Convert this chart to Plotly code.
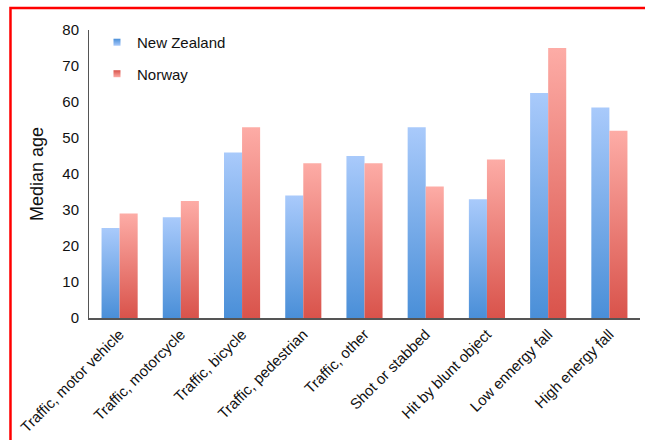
import plotly.graph_objects as go

# Median age by injury mechanism
categories = [
    "Traffic, motor vehicle",
    "Traffic, motorcycle",
    "Traffic, bicycle",
    "Traffic, pedestrian",
    "Traffic, other",
    "Shot or stabbed",
    "Hit by blunt object",
    "Low ennergy fall",
    "High energy fall",
]
new_zealand = [25, 28, 46, 34, 45, 53, 33, 62.5, 58.5]
norway = [29, 32.5, 53, 43, 43, 36.5, 44, 75, 52]
y_ticks = [0, 10, 20, 30, 40, 50, 60, 70, 80]

FONT = "Liberation Sans, Arial, Helvetica, sans-serif"
BAR_W = 0.295  # width of one bar in category units

series = [
    # name, values, bottom colour, top colour, offset side
    ("New Zealand", new_zealand, "#4a8fd8", "#a9cafb", -1),
    ("Norway", norway, "#d9534b", "#fdaca6", 0),
]

fig = go.Figure()

for gi, (name, values, c_bot, c_top, side) in enumerate(series):
    for i, v in enumerate(values):
        x0 = i + side * BAR_W
        x1 = x0 + BAR_W
        fig.add_trace(go.Scatter(
            x=[x0, x1, x1, x0, x0],
            y=[0, 0, v, v, 0],
            mode="none",
            fill="toself",
            fillgradient=dict(
                type="vertical",
                colorscale=[[0, c_bot], [1, c_top]],
                start=0,
                stop=v,
            ),
            showlegend=False,
            hoverinfo="skip",
        ))
    # legend entry for the series
    fig.add_trace(go.Scatter(
        x=[None], y=[None],
        mode="markers",
        name=name,
        legendgroup=name,
        marker=dict(symbol="square", size=7, color=c_bot,
                    gradient=dict(type="vertical", color=c_top)),
    ))

fig.update_layout(
    width=645,
    height=440,
    margin=dict(l=89, r=5, t=30, b=122),
    paper_bgcolor="white",
    plot_bgcolor="white",
    font=dict(family=FONT, size=15, color="#111111"),
    showlegend=True,
    legend=dict(
        x=0.0145, y=1.014, xanchor="left", yanchor="top",
        bgcolor="rgba(0,0,0,0)",
        font=dict(size=15, family=FONT, color="#111111"),
        tracegroupgap=9,
        itemclick=False,
    ),
    xaxis=dict(
        range=[-0.5, 8.5],
        tickmode="array",
        tickvals=list(range(len(categories))),
        ticktext=categories,
        tickangle=-45,
        tickfont=dict(size=15, family=FONT, color="#111111"),
        showgrid=False,
        zeroline=False,
        showline=True,
        linecolor="#555555",
        linewidth=1.5,
        ticks="",
    ),
    yaxis=dict(
        range=[0, 80],
        tickmode="array",
        tickvals=y_ticks,
        tickfont=dict(size=15, family=FONT, color="#111111"),
        showgrid=False,
        zeroline=False,
        showline=True,
        linecolor="#555555",
        linewidth=1,
        ticks="",
        ticklabelstandoff=6,
        title=dict(text="Median age", font=dict(size=18, family=FONT, color="#111111"),
                   standoff=14),
    ),
    shapes=[
        dict(type="rect", xref="paper", yref="paper",
             x0=-0.1425, x1=1.03, y0=-0.45, y1=1.076,
             line=dict(color="#ff0000", width=2.5), fillcolor="rgba(0,0,0,0)",
             layer="above"),
    ],
)

fig.write_html("out.html")
